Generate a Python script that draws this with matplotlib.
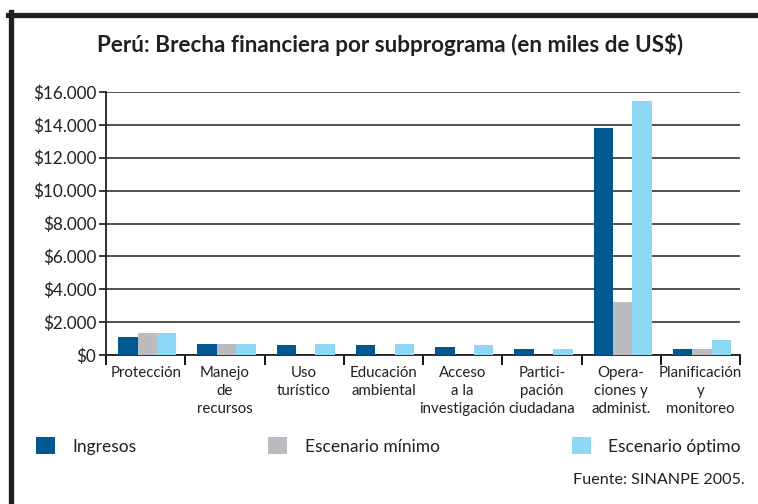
import matplotlib
matplotlib.use("Agg")
import matplotlib.pyplot as plt
from matplotlib.patches import Patch
from matplotlib.lines import Line2D
import numpy as np

plt.rcParams['font.family'] = ['Lato', 'DejaVu Sans']

# data (miles de US$)
categorias = ["Protección", "Manejo\nde\nrecursos", "Uso\nturístico",
              "Educación\nambiental", "Acceso\na la\ninvestigación",
              "Partici-\npación\nciudadana", "Opera-\nciones y\nadminist.",
              "Planificación\ny\nmonitoreo"]
ingresos = [1090, 670, 610, 610, 490, 370, 13840, 370]
esc_minimo = [1330, 670, 0, 0, 0, 0, 3210, 370]
esc_optimo = [1330, 670, 670, 670, 610, 370, 15430, 910]
series = ["Ingresos", "Escenario mínimo", "Escenario óptimo"]
colores = ["#005891", "#bbbcc0", "#8fd8f5"]
yticks = [0, 2000, 4000, 6000, 8000, 10000, 12000, 14000, 16000]
ytick_labels = ["$0", "$2.000", "$4.000", "$6.000", "$8.000", "$10.000",
                "$12.000", "$14.000", "$16.000"]

fig = plt.figure(figsize=(7.58, 5.04), dpi=100)
ax = fig.add_axes([106 / 758, 1 - 355 / 504, 634 / 758, 263 / 504])

x = np.arange(len(categorias)) + 0.52
w = 0.245
for k, vals in enumerate([ingresos, esc_minimo, esc_optimo]):
    ax.bar(x + (k - 1) * w, vals, width=w, color=colores[k], zorder=3)

ax.set_xlim(0, len(categorias))
ax.set_ylim(0, 16000)
ax.set_yticks(yticks)
ax.set_yticklabels(ytick_labels, fontsize=12.3, color="#231f20")
ax.yaxis.grid(True, color="#231f20", linewidth=1.1, zorder=1)
ax.tick_params(axis="y", direction="out", length=5, width=1.1, pad=2)

ax.set_xticks(np.arange(len(categorias)) + 0.5)
ax.set_xticklabels(categorias, fontsize=10.8, linespacing=1.38, color="#231f20", va="top")
ax.set_xticks(np.arange(len(categorias) + 1), minor=True)
ax.tick_params(axis="x", which="major", length=0, pad=8)
ax.tick_params(axis="x", which="minor", direction="out", length=7, width=1.3)

for s in ["top", "right"]:
    ax.spines[s].set_visible(False)
for s in ["left", "bottom"]:
    ax.spines[s].set_color("#231f20")
    ax.spines[s].set_linewidth(1.3)

fig.text(390 / 758, 1 - 45 / 504, "Perú: Brecha financiera por subprograma (en miles de US$)",
         ha="center", va="center", fontsize=16.2, fontweight="bold", color="#231f20")

handles = [Patch(facecolor=c, edgecolor="none") for c in colores]
fig.legend(handles, series, loc="center left", bbox_to_anchor=(20 / 758, 1 - 446 / 504),
           ncol=3, frameon=False, fontsize=12.5, handlelength=1.1, handleheight=1.1,
           handletextpad=1.0, columnspacing=7.6, labelcolor="#231f20")

fig.text(745 / 758, 1 - 480 / 504, "Fuente: SINANPE 2005.", ha="right", va="center",
         fontsize=11.6, color="#231f20")

# marco
fig.add_artist(Line2D([8 / 758, 1], [1 - 14.5 / 504] * 2, color="#231f20", linewidth=3.8))
fig.add_artist(Line2D([10.5 / 758] * 2, [0, 1 - 12 / 504], color="#231f20", linewidth=3.8))

fig.savefig("out.png", dpi=100)
